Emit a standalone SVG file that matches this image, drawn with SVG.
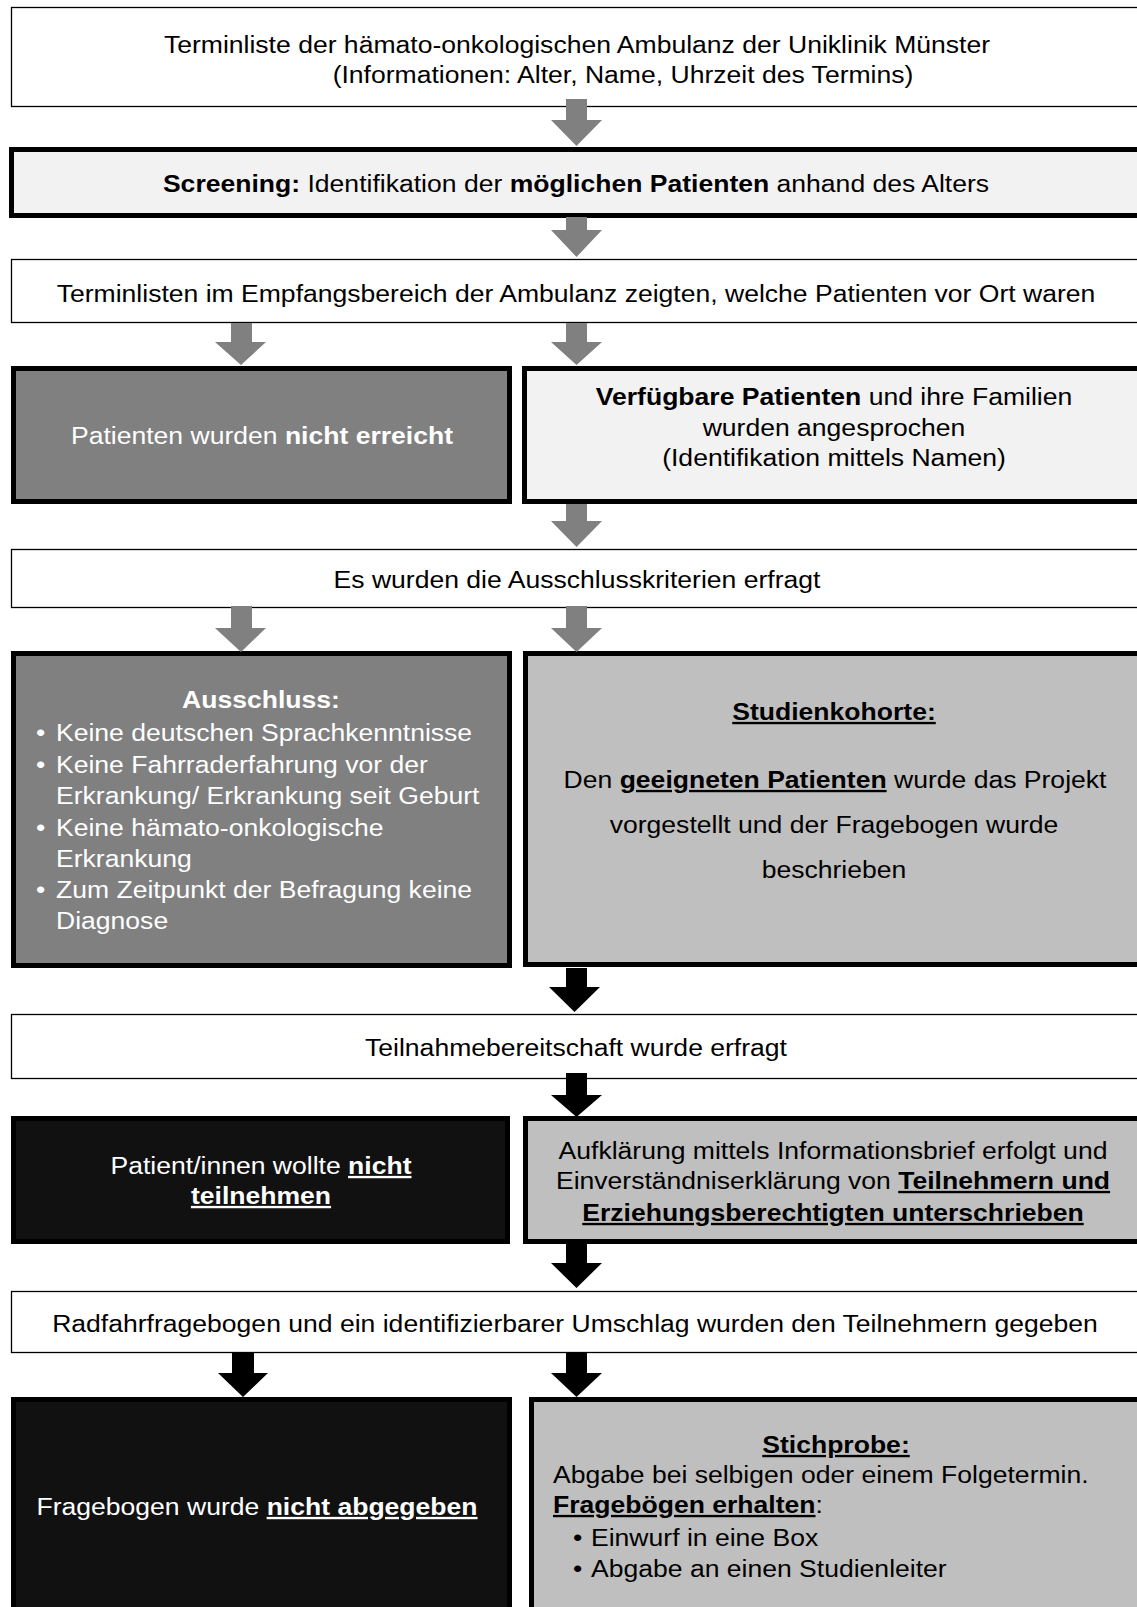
<svg xmlns="http://www.w3.org/2000/svg" width="1137" height="1607" viewBox="0 0 1137 1607">
<style>
.thin{fill:#fff;stroke:#000;stroke-width:1.3}
.thick{stroke:#000;stroke-width:5}
.lg{fill:#f2f2f2}
.dg{fill:#808080}
.mg{fill:#bfbfbf}
.bk{fill:#111}
.ga{fill:#808080}
.ba{fill:#000}
text{font-family:"Liberation Sans",Arial,sans-serif;font-size:23.5px;fill:#000}
.m{text-anchor:middle}
.w{fill:#fff}
.b{font-weight:bold}
.u{text-decoration:underline}
</style>
<rect width="1137" height="1607" fill="#fff"/>
<g id="n1">
<rect class="thin" x="11.5" y="7.5" width="1135" height="99"/>
<text class="m" transform="translate(577,53) scale(1.13,1)">Terminliste der hämato-onkologischen Ambulanz der Uniklinik Münster</text>
<text class="m" transform="translate(623,83) scale(1.13,1)">(Informationen: Alter, Name, Uhrzeit des Termins)</text>
</g>
<g id="n2">
<rect class="thick lg" x="11.5" y="149.5" width="1140" height="66"/>
<text class="m" transform="translate(576,192) scale(1.13,1)"><tspan class="b">Screening:</tspan> Identifikation der <tspan class="b">möglichen Patienten</tspan> anhand des Alters</text>
</g>
<g id="n3">
<rect class="thin" x="11.5" y="259.5" width="1135" height="63"/>
<text class="m" transform="translate(576,302) scale(1.13,1)">Terminlisten im Empfangsbereich der Ambulanz zeigten, welche Patienten vor Ort waren</text>
</g>
<g id="n4a">
<rect class="thick dg" x="13.5" y="368.5" width="496" height="133"/>
<text class="m w" transform="translate(262,444) scale(1.13,1)">Patienten wurden <tspan class="b">nicht erreicht</tspan></text>
</g>
<g id="n4b">
<rect class="thick lg" x="524.5" y="368.5" width="625" height="133"/>
<text class="m" transform="translate(834,405) scale(1.13,1)"><tspan class="b">Verfügbare Patienten</tspan> und ihre Familien</text>
<text class="m" transform="translate(834,436) scale(1.13,1)">wurden angesprochen</text>
<text class="m" transform="translate(834,466) scale(1.13,1)">(Identifikation mittels Namen)</text>
</g>
<g id="n5">
<rect class="thin" x="11.5" y="549.5" width="1135" height="58"/>
<text class="m" transform="translate(577,588) scale(1.13,1)">Es wurden die Ausschlusskriterien erfragt</text>
</g>
<g id="n6a">
<rect class="thick dg" x="13.5" y="653.5" width="496" height="312"/>
<text class="m w b" transform="translate(261,708) scale(1.13,1)">Ausschluss:</text>
<text class="w" transform="translate(36,741) scale(1.13,1)">•</text>
<text class="w" transform="translate(56,741) scale(1.13,1)">Keine deutschen Sprachkenntnisse</text>
<text class="w" transform="translate(36,773) scale(1.13,1)">•</text>
<text class="w" transform="translate(56,773) scale(1.13,1)">Keine Fahrraderfahrung vor der</text>
<text class="w" transform="translate(56,804) scale(1.13,1)">Erkrankung/ Erkrankung seit Geburt</text>
<text class="w" transform="translate(36,836) scale(1.13,1)">•</text>
<text class="w" transform="translate(56,836) scale(1.13,1)">Keine hämato-onkologische</text>
<text class="w" transform="translate(56,867) scale(1.13,1)">Erkrankung</text>
<text class="w" transform="translate(36,898) scale(1.13,1)">•</text>
<text class="w" transform="translate(56,898) scale(1.13,1)">Zum Zeitpunkt der Befragung keine</text>
<text class="w" transform="translate(56,929) scale(1.13,1)">Diagnose</text>
</g>
<g id="n6b">
<rect class="thick mg" x="525.5" y="653.5" width="625" height="311"/>
<text class="m b u" transform="translate(834,720) scale(1.13,1)">Studienkohorte:</text>
<text class="m" transform="translate(835,788) scale(1.13,1)">Den <tspan class="b u">geeigneten Patienten</tspan> wurde das Projekt</text>
<text class="m" transform="translate(834,833) scale(1.13,1)">vorgestellt und der Fragebogen wurde</text>
<text class="m" transform="translate(834,878) scale(1.13,1)">beschrieben</text>
</g>
<g id="n7">
<rect class="thin" x="11.5" y="1014.5" width="1135" height="64"/>
<text class="m" transform="translate(576,1056) scale(1.13,1)">Teilnahmebereitschaft wurde erfragt</text>
</g>
<g id="n8a">
<rect class="thick bk" x="13.5" y="1118.5" width="494" height="123"/>
<text class="m w" transform="translate(261,1174) scale(1.13,1)">Patient/innen wollte <tspan class="b u">nicht</tspan></text>
<text class="m w b u" transform="translate(261,1204) scale(1.13,1)">teilnehmen</text>
</g>
<g id="n8b">
<rect class="thick mg" x="525.5" y="1118.5" width="625" height="123"/>
<text class="m" transform="translate(833,1159) scale(1.13,1)">Aufklärung mittels Informationsbrief erfolgt und</text>
<text class="m" transform="translate(833,1189) scale(1.13,1)">Einverständniserklärung von <tspan class="b u">Teilnehmern und</tspan></text>
<text class="m b u" transform="translate(833,1221) scale(1.13,1)">Erziehungsberechtigten unterschrieben</text>
</g>
<g id="n9">
<rect class="thin" x="11.5" y="1291.5" width="1135" height="61"/>
<text class="m" transform="translate(575,1332) scale(1.13,1)">Radfahrfragebogen und ein identifizierbarer Umschlag wurden den Teilnehmern gegeben</text>
</g>
<g id="n10a">
<rect class="thick bk" x="13.5" y="1399.5" width="496" height="220"/>
<text class="m w" transform="translate(257,1515) scale(1.13,1)">Fragebogen wurde <tspan class="b u">nicht abgegeben</tspan></text>
</g>
<g id="n10b">
<rect class="thick mg" x="531.5" y="1399.5" width="625" height="220"/>
<text class="m b u" transform="translate(836,1453) scale(1.13,1)">Stichprobe:</text>
<text transform="translate(553,1483) scale(1.13,1)">Abgabe bei selbigen oder einem Folgetermin.</text>
<text transform="translate(553,1513) scale(1.13,1)"><tspan class="b u">Fragebögen erhalten</tspan>:</text>
<text transform="translate(573,1546) scale(1.13,1)">•</text>
<text transform="translate(591,1546) scale(1.13,1)">Einwurf in eine Box</text>
<text transform="translate(573,1577) scale(1.13,1)">•</text>
<text transform="translate(591,1577) scale(1.13,1)">Abgabe an einen Studienleiter</text>
</g>
<g id="connectors">
<polygon class="ga" points="566,99 587,99 587,120 602,120 576.5,146 551,120 566,120"/>
<polygon class="ga" points="566,217 587,217 587,230 602,230 576.5,257 551,230 566,230"/>
<polygon class="ga" points="231,323 252,323 252,342 266,342 241,365 215,342 231,342"/>
<polygon class="ga" points="566,323 587,323 587,342 602,342 576.5,365 551,342 566,342"/>
<polygon class="ga" points="566,504 587,504 587,521 602,521 576.5,547 551,521 566,521"/>
<polygon class="ga" points="231,606 252,606 252,628 266,628 241,652 215,628 231,628"/>
<polygon class="ga" points="566,606 587,606 587,628 602,628 576.5,652 551,628 566,628"/>
<polygon class="ba" points="566,968 587,968 587,987 600,987 574.5,1012 549,987 566,987"/>
<polygon class="ba" points="566,1073 587,1073 587,1095 602,1095 576.5,1117 551,1095 566,1095"/>
<polygon class="ba" points="566,1244 587,1244 587,1263 602,1263 576.5,1288 551,1263 566,1263"/>
<polygon class="ba" points="232,1353 254,1353 254,1373 268,1373 243,1397 218,1373 232,1373"/>
<polygon class="ba" points="566,1353 587,1353 587,1373 602,1373 576.5,1397 551,1373 566,1373"/>
</g>
</svg>
